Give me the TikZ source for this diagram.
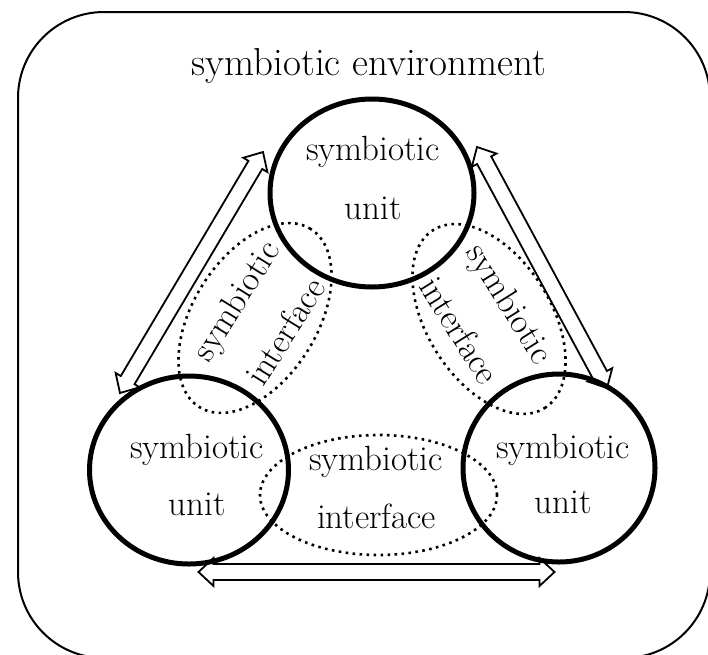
\documentclass[tikz,border=0pt]{standalone}
\usetikzlibrary{shapes.geometric,calc}
\tikzset{
  unitbox/.style={draw, ellipse, line width=5pt, inner sep=0pt},
  ifacebox/.style={draw, ellipse, line width=2.6pt, dash pattern=on 2.6pt off 4.4pt, inner sep=0pt},
  harrow/.style={draw, line width=1.8pt, fill=white, line join=miter},
  lbl/.style={font=\fontsize{35}{42}\selectfont, inner sep=0pt},
  ttl/.style={font=\fontsize{39}{47}\selectfont, inner sep=0pt},
}
\newcommand{\hollowarrow}[2]{%
  \path let \p1=($(#2)-(#1)$) in \pgfextra{%
    \pgfmathsetmacro\harang{atan2(\y1,\x1)}%
    \pgfmathsetmacro\harlen{veclen(\x1,\y1)}%
    \xdef\harangg{\harang}\xdef\harlenn{\harlen}};
  \draw[harrow, shift={(#1)}, rotate=\harangg]
    (0,0) -- (15,14) -- (15,8) -- (\harlenn-15,8) -- (\harlenn-15,14) -- (\harlenn,0)
    -- (\harlenn-15,-14) -- (\harlenn-15,-8) -- (15,-8) -- (15,-14) -- cycle;
}
\begin{document}
\begin{tikzpicture}[x=1pt,y=-1pt]
\path[use as bounding box, clip] (0,0) rectangle (708,654);
% environment
\draw[line width=2pt, rounded corners=86pt] (18,12) rectangle (710,658);
\node[ttl, anchor=base] (env) at (369,75) {symbiotic environment};
% arrow end points
\coordinate (la1) at (120,393);
\coordinate (la2) at (263,152);
\coordinate (ra1) at (607,388);
\coordinate (ra2) at (477,147);
\coordinate (ba1) at (198.5,572);
\coordinate (ba2) at (554.5,572);
\hollowarrow{la1}{la2}
\hollowarrow{ra1}{ra2}
\hollowarrow{ba1}{ba2}
% interfaces
\node[ifacebox, minimum width=210, minimum height=124, rotate=58] (ifl) at (255,318) {};
\node[ifacebox, minimum width=210, minimum height=124, rotate=-58] (ifr) at (489,319) {};
\node[ifacebox, minimum width=237, minimum height=120] (ifb) at (378.5,495) {};
% units
\node[unitbox, minimum width=204, minimum height=188] (ut) at (372,193) {};
\node[unitbox, minimum width=199, minimum height=188] (ul) at (189,470) {};
\node[unitbox, minimum width=192, minimum height=188] (ur) at (559,468) {};
% unit labels
\node[lbl, anchor=base] (ut1) at (373,160) {symbiotic};
\node[lbl, anchor=base] (ut2) at (373,219) {unit};
\node[lbl, anchor=base] (ul1) at (197,458) {symbiotic};
\node[lbl, anchor=base] (ul2) at (197,515) {unit};
\node[lbl, anchor=base] (ur1) at (563,458) {symbiotic};
\node[lbl, anchor=base] (ur2) at (563,513) {unit};
% interface labels
\node[lbl, anchor=base] (ib1) at (376,470) {symbiotic};
\node[lbl, anchor=base] (ib2) at (376.5,528) {interface};
\node[lbl, rotate=58] (il1) at (238,302) {symbiotic};
\node[lbl, rotate=58] (il2) at (285,331) {interface};
\node[lbl, rotate=-58] (ir1) at (508,305) {symbiotic};
\node[lbl, rotate=-58] (ir2) at (460,330) {interface};
\end{tikzpicture}
\end{document}
